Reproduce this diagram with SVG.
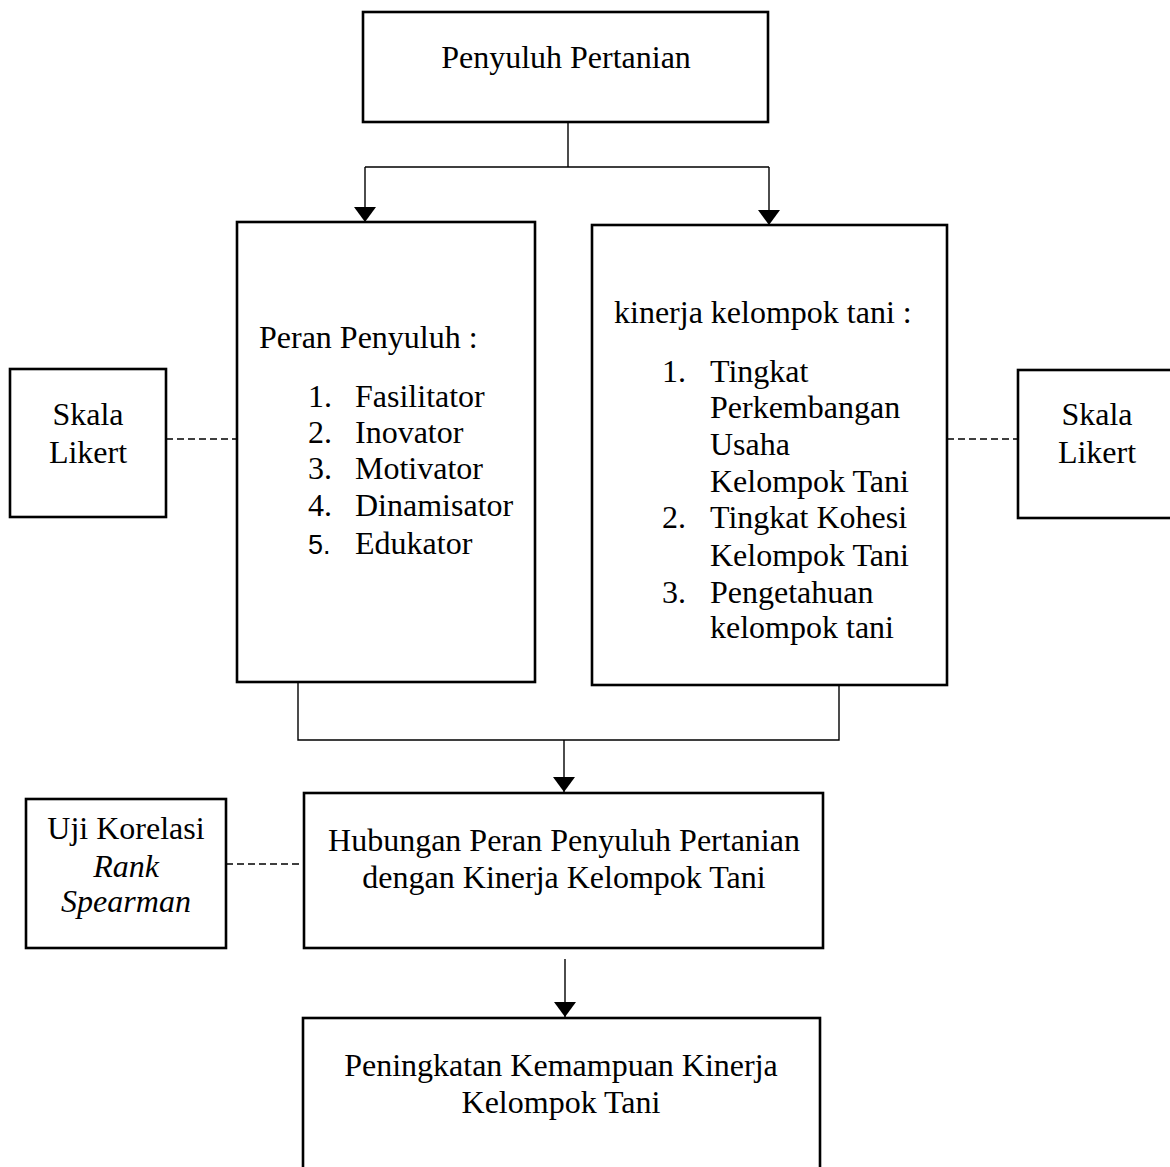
<svg xmlns="http://www.w3.org/2000/svg" width="1170" height="1167" viewBox="0 0 1170 1167">
<style>
.box{fill:#fff;stroke:#000;stroke-width:2.6}
.t{font-family:"Liberation Serif","Times New Roman",serif;font-size:32px;fill:#000}
.c{text-anchor:middle}
.i{font-style:italic}
.s{font-family:"Liberation Sans",Arial,sans-serif;font-size:27px;fill:#000}
.ln{fill:none;stroke:#000;stroke-width:1.4}
.dash{fill:none;stroke:#000;stroke-width:1.5;stroke-dasharray:7,4}
</style>
<defs>
<marker id="arr" markerUnits="userSpaceOnUse" markerWidth="16" markerHeight="22" refX="15" refY="11" orient="auto" viewBox="0 0 16 22">
<path d="M0,0 L15,11 L0,22 z" fill="#000"/>
</marker>
</defs>
<rect width="1170" height="1167" fill="#fff"/>
<g id="connectors">
<path class="ln" d="M568,122 V167 M365,167 H769"/>
<path class="ln" d="M365,167 V222" marker-end="url(#arr)"/>
<path class="ln" d="M769,167 V225" marker-end="url(#arr)"/>
<path class="ln" d="M298,682 V740 H839 V685"/>
<path class="ln" d="M564,740 V792" marker-end="url(#arr)"/>
<path class="ln" d="M565,959 V1017" marker-end="url(#arr)"/>
<path class="dash" d="M166,439 H237"/>
<path class="dash" d="M947,439 H1018"/>
<path class="dash" d="M226,864 H304"/>
</g>
<g id="penyuluh-pertanian">
<rect class="box" x="363" y="12" width="405" height="110"/>
<text class="t c" x="566" y="68">Penyuluh Pertanian</text>
</g>
<g id="peran-penyuluh">
<rect class="box" x="237" y="222" width="298" height="460"/>
<text class="t" x="259" y="348">Peran Penyuluh :</text>
<text class="t" x="308" y="407">1.</text><text class="t" x="355" y="407">Fasilitator</text>
<text class="t" x="308" y="443">2.</text><text class="t" x="355" y="443">Inovator</text>
<text class="t" x="308" y="479">3.</text><text class="t" x="355" y="479">Motivator</text>
<text class="t" x="308" y="516">4.</text><text class="t" x="355" y="516">Dinamisator</text>
<text class="s" x="308" y="554">5.</text><text class="t" x="355" y="554">Edukator</text>
</g>
<g id="kinerja-kelompok-tani">
<rect class="box" x="592" y="225" width="355" height="460"/>
<text class="t" x="614" y="323">kinerja kelompok tani :</text>
<text class="t" x="662" y="382">1.</text><text class="t" x="710" y="382">Tingkat</text>
<text class="t" x="710" y="418">Perkembangan</text>
<text class="t" x="710" y="455">Usaha</text>
<text class="t" x="710" y="492">Kelompok Tani</text>
<text class="t" x="662" y="528">2.</text><text class="t" x="710" y="528">Tingkat Kohesi</text>
<text class="t" x="710" y="566">Kelompok Tani</text>
<text class="t" x="662" y="603">3.</text><text class="t" x="710" y="603">Pengetahuan</text>
<text class="t" x="710" y="638">kelompok tani</text>
</g>
<g id="skala-likert-left">
<rect class="box" x="10" y="369" width="156" height="148"/>
<text class="t c" x="88" y="425">Skala</text>
<text class="t c" x="88" y="463">Likert</text>
</g>
<g id="skala-likert-right">
<rect class="box" x="1018" y="370" width="160" height="148"/>
<text class="t c" x="1097" y="425">Skala</text>
<text class="t c" x="1097" y="463">Likert</text>
</g>
<g id="hubungan">
<rect class="box" x="304" y="793" width="519" height="155"/>
<text class="t c" x="564" y="851">Hubungan Peran Penyuluh Pertanian</text>
<text class="t c" x="564" y="888">dengan Kinerja Kelompok Tani</text>
</g>
<g id="uji-korelasi">
<rect class="box" x="26" y="799" width="200" height="149"/>
<text class="t c" x="126" y="839">Uji Korelasi</text>
<text class="t c i" x="126" y="877">Rank</text>
<text class="t c i" x="126" y="912">Spearman</text>
</g>
<g id="peningkatan">
<rect class="box" x="303" y="1018" width="517" height="170"/>
<text class="t c" x="561" y="1076">Peningkatan Kemampuan Kinerja</text>
<text class="t c" x="561" y="1113">Kelompok Tani</text>
</g>
</svg>
